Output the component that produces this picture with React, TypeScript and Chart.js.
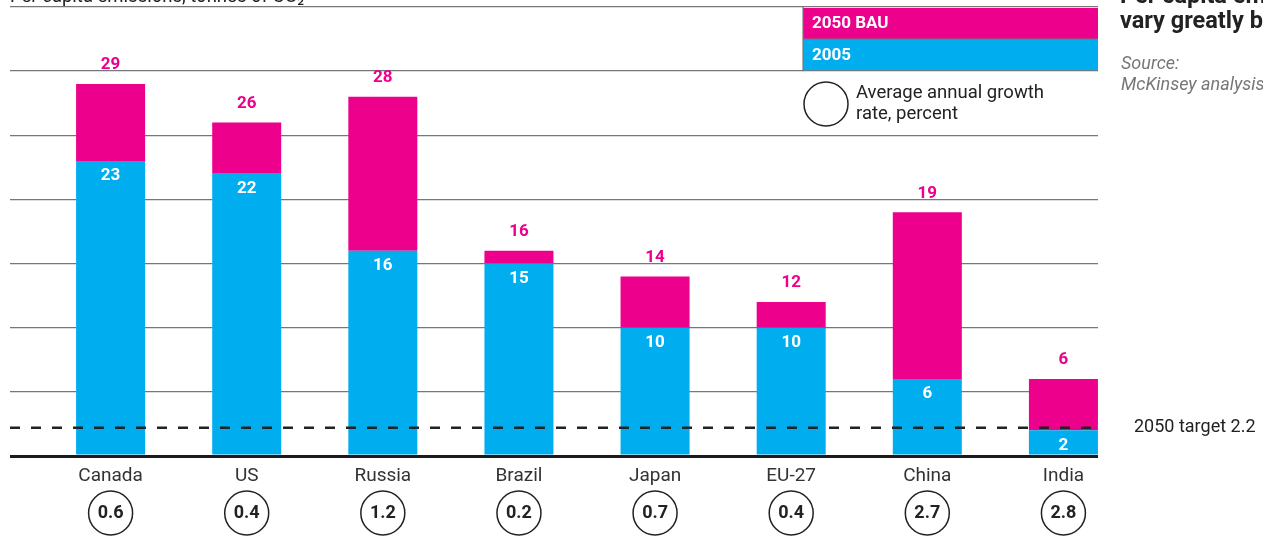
import React, { useEffect, useRef } from "react";
import { Chart, registerables } from "chart.js";

Chart.register(...registerables);

const countries = ["Canada", "US", "Russia", "Brazil", "Japan", "EU-27", "China", "India"];
const emissions2005 = [23, 22, 16, 15, 10, 10, 6, 2];
const emissions2050BAU = [29, 26, 28, 16, 14, 12, 19, 6];
const growthRates = ["0.6", "0.4", "1.2", "0.2", "0.7", "0.4", "2.7", "2.8"];
const target2050 = 2.2;
const yTicks = [0, 5, 10, 15, 20, 25, 30, 35];

const PINK = "#EC008C";
const BLUE = "#00AEEF";
const FONT = "Roboto, 'Liberation Sans', sans-serif";

export default function App() {
  const ref = useRef<HTMLCanvasElement | null>(null);

  useEffect(() => {
    document.body.style.margin = "0";
    const canvas = ref.current!;
    const overlay = {
      id: "overlay",
      afterDatasetsDraw(chart: any) {
        const ctx = chart.ctx as CanvasRenderingContext2D;
        const xs = chart.scales.x;
        const ys = chart.scales.y;
        const area = chart.chartArea;
        ctx.save();
        // dashed target line
        ctx.strokeStyle = "#222";
        ctx.lineWidth = 2.5;
        ctx.setLineDash([10, 11]);
        const ty = ys.getPixelForValue(target2050);
        ctx.beginPath();
        ctx.moveTo(area.left, ty);
        ctx.lineTo(area.right, ty);
        ctx.stroke();
        ctx.setLineDash([]);

        // value labels
        ctx.textAlign = "center";
        ctx.textBaseline = "middle";
        ctx.font = `bold 17px ${FONT}`;
        countries.forEach((c, i) => {
          const x = xs.getPixelForValue(i);
          ctx.fillStyle = PINK;
          ctx.fillText(String(emissions2050BAU[i]), x, ys.getPixelForValue(emissions2050BAU[i]) - 19);
          ctx.fillStyle = "#fff";
          ctx.fillText(String(emissions2005[i]), x, ys.getPixelForValue(emissions2005[i]) + 15);
        });

        // country labels and growth circles
        countries.forEach((c, i) => {
          const x = xs.getPixelForValue(i);
          ctx.fillStyle = "#333";
          ctx.font = `19px ${FONT}`;
          ctx.fillText(c, x, area.bottom + 20);
          ctx.beginPath();
          ctx.strokeStyle = "#222";
          ctx.lineWidth = 1.5;
          ctx.arc(x, area.bottom + 57, 22, 0, Math.PI * 2);
          ctx.stroke();
          ctx.fillStyle = "#222";
          ctx.font = `bold 18px ${FONT}`;
          ctx.fillText(growthRates[i], x, area.bottom + 57);
        });

        // target label
        ctx.textAlign = "left";
        ctx.fillStyle = "#222";
        ctx.font = `18px ${FONT}`;
        ctx.fillText("2050 target " + target2050, 1134, ty);

        // legend box
        const lx = 803;
        const top = ys.getPixelForValue(35);
        const bot = ys.getPixelForValue(30);
        const mid = (top + bot) / 2;
        ctx.fillStyle = PINK;
        ctx.fillRect(lx, top + 1, area.right - lx, mid - top - 1);
        ctx.fillStyle = BLUE;
        ctx.fillRect(lx, mid, area.right - lx, bot - mid - 1);
        ctx.strokeStyle = "#777";
        ctx.lineWidth = 1.2;
        ctx.beginPath();
        ctx.moveTo(lx, top);
        ctx.lineTo(lx, bot);
        ctx.moveTo(lx, mid);
        ctx.lineTo(area.right, mid);
        ctx.stroke();
        ctx.fillStyle = "#fff";
        ctx.font = `bold 17px ${FONT}`;
        ctx.fillText("2050 BAU", 812, (top + mid) / 2 + 1);
        ctx.fillText("2005", 812, (mid + bot) / 2 + 1);

        // circle legend
        ctx.beginPath();
        ctx.strokeStyle = "#222";
        ctx.lineWidth = 1.5;
        ctx.arc(826, 104, 22, 0, Math.PI * 2);
        ctx.stroke();
        ctx.fillStyle = "#222";
        ctx.font = `18.5px ${FONT}`;
        ctx.fillText("Average annual growth", 856, 93);
        ctx.fillText("rate, percent", 856, 114);

        // titles (cropped)
        ctx.textBaseline = "alphabetic";
        ctx.font = `18.5px ${FONT}`;
        ctx.fillStyle = "#222";
        ctx.fillText("Per capita emissions, tonnes of CO\u2082", 10, 2);
        ctx.font = `bold 23.5px ${FONT}`;
        ctx.fillText("Per capita emissions", 1120, 3);
        ctx.fillText("vary greatly by country", 1120, 28);
        ctx.font = `italic 18px ${FONT}`;
        ctx.fillStyle = "#777";
        ctx.textBaseline = "middle";
        ctx.fillText("Source:", 1121, 64);
        ctx.fillText("McKinsey analysis", 1121, 85);
        ctx.restore();
      },
    };

    const chart = new Chart(canvas, {
      type: "bar",
      data: {
        datasets: [
          {
            label: "2005",
            data: emissions2005.map((v, i) => ({ x: i, y: v })),
            backgroundColor: BLUE,
            grouped: false,
            order: 1,
          } as any,
          {
            label: "2050 BAU",
            data: emissions2050BAU.map((v, i) => ({ x: i, y: [emissions2005[i], v] })),
            backgroundColor: PINK,
            grouped: false,
            order: 2,
          } as any,
        ],
      },
      options: {
        responsive: false,
        animation: false,
        devicePixelRatio: 1,
        layout: { padding: { left: 10, right: 165, top: 7, bottom: 84 } },
        datasets: { bar: { categoryPercentage: 1, barPercentage: 0.507 } },
        plugins: { legend: { display: false }, tooltip: { enabled: false } },
        scales: {
          x: {
            type: "linear",
            min: -0.739,
            max: 7.254,
            offset: false,
            display: false,
            afterBuildTicks: (s: any) => {
              s.ticks = countries.map((_, i) => ({ value: i }));
            },
          },
          y: {
            min: 0,
            max: 35,
            afterBuildTicks: (s: any) => {
              s.ticks = yTicks.map((v) => ({ value: v }));
            },
            ticks: { display: false },
            border: { display: false },
            grid: {
              drawTicks: false,
              color: (c: any) => (c.tick && c.tick.value === 0 ? "#1a1a1a" : "#777"),
              lineWidth: (c: any) => (c.tick && c.tick.value === 0 ? 3 : 1.3),
            },
          },
        },
      } as any,
      plugins: [overlay],
    });
    return () => chart.destroy();
  }, []);

  return (
    <div style={{ position: "absolute", left: 0, top: 0, width: 1263, height: 540, background: "#fff" }}>
      <canvas ref={ref} width={1263} height={540} />
    </div>
  );
}
